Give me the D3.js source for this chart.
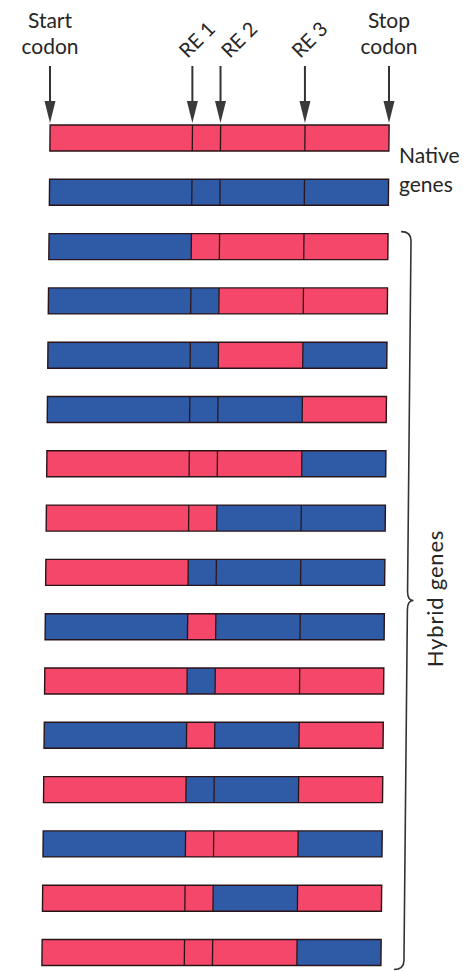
<!DOCTYPE html>
<html>
<head>
<meta charset="utf-8">
<script src="https://cdn.jsdelivr.net/npm/d3@7"></script>
<style>
  html, body { margin: 0; padding: 0; background: #ffffff; }
  svg { display: block; }
  text { font-family: Lato, "Open Sans", sans-serif; fill: #262626; }
</style>
</head>
<body>
<svg id="chart" width="471" height="971"></svg>
<script>
// ---- data ----
const siteNames = ["Start codon", "RE 1", "RE 2", "RE 3", "Stop codon"];
const sitePositions = [0, 42, 50.3, 75.2, 100];   // relative position along the gene
const nativeGenes = [
  ["R", "R", "R", "R"],
  ["B", "B", "B", "B"]
];
const hybridGenes = [
  ["B", "R", "R", "R"],
  ["B", "B", "R", "R"],
  ["B", "B", "R", "B"],
  ["B", "B", "B", "R"],
  ["R", "R", "R", "B"],
  ["R", "R", "B", "B"],
  ["R", "B", "B", "B"],
  ["B", "R", "B", "B"],
  ["R", "B", "R", "R"],
  ["B", "R", "B", "R"],
  ["R", "B", "B", "R"],
  ["B", "R", "R", "B"],
  ["R", "R", "B", "R"],
  ["R", "R", "R", "B"]
];
const groupLabels = ["Native genes", "Hybrid genes"];

// ---- layout ----
const svg = d3.select("#chart");
const allGenes = nativeGenes.concat(hybridGenes);
const x = d3.scaleLinear().domain([0, 100]).range([50, 389]);
const rowStep = 54.3, barH = 26, firstTop = 125;
const y = d3.scaleLinear().domain([0, 1]).range([firstTop, firstTop + rowStep]);
const fill = d3.scaleOrdinal().domain(["R", "B"]).range(["#f4476a", "#2e5aa6"]);

// ---- arrows & labels ----
const header = svg.append("g");
const arrowTop = 66, arrowTip = 123, headL = 22, headW = 11;
sitePositions.forEach((p, i) => {
  const ax = x(p);
  header.append("line")
    .attr("x1", ax).attr("x2", ax)
    .attr("y1", arrowTop).attr("y2", arrowTip - headL + 2)
    .attr("stroke", "#333").attr("stroke-width", 2);
  header.append("path")
    .attr("d", `M${ax - headW / 2},${arrowTip - headL} L${ax + headW / 2},${arrowTip - headL} L${ax},${arrowTip} Z`)
    .attr("fill", "#3a3a3a");
});
// Start / Stop labels (two lines)
[0, 4].forEach(i => {
  const words = siteNames[i].split(" ");
  const t = header.append("text")
    .attr("x", x(sitePositions[i]))
    .attr("text-anchor", "middle")
    .attr("font-size", 21);
  words.forEach((w, k) => {
    t.append("tspan").attr("x", x(sitePositions[i])).attr("y", 28 + k * 26).text(w);
  });
});
// RE labels, rotated
const reDx = [0, 4, 18, 4, 0];
[1, 2, 3].forEach(i => {
  const cx = x(sitePositions[i]) + reDx[i], cy = 39;
  header.append("text")
    .attr("transform", `translate(${cx},${cy}) rotate(-45)`)
    .attr("text-anchor", "middle")
    .attr("dominant-baseline", "central")
    .attr("font-size", 20)
    .text(siteNames[i]);
});

// ---- bars (slightly skewed like the scanned original) ----
const yc = firstTop + barH / 2;
const bars = svg.append("g")
  .attr("transform", `translate(0,${yc}) skewX(-0.56) translate(0,${-yc})`);

const segs = [];
allGenes.forEach((row, r) => {
  row.forEach((c, s) => {
    segs.push({ r, s, c });
  });
});
bars.selectAll("rect.seg").data(segs).join("rect")
  .attr("class", "seg")
  .attr("x", d => x(sitePositions[d.s]))
  .attr("width", d => x(sitePositions[d.s + 1]) - x(sitePositions[d.s]))
  .attr("y", d => y(d.r))
  .attr("height", barH)
  .attr("fill", d => fill(d.c))
  .attr("stroke", "none");
// outlines
bars.selectAll("rect.outline").data(allGenes).join("rect")
  .attr("class", "outline")
  .attr("x", x(0)).attr("width", x(100) - x(0))
  .attr("y", (d, r) => y(r)).attr("height", barH)
  .attr("fill", "none")
  .attr("stroke", "#2a1418").attr("stroke-width", 1.4);
// dividers at RE sites
const divs = [];
allGenes.forEach((row, r) => [1, 2, 3].forEach(i => divs.push({ r, i })));
bars.selectAll("line.div").data(divs).join("line")
  .attr("class", "div")
  .attr("x1", d => x(sitePositions[d.i])).attr("x2", d => x(sitePositions[d.i]))
  .attr("y1", d => y(d.r)).attr("y2", d => y(d.r) + barH)
  .attr("stroke", "#2a1418").attr("stroke-width", 1.3);

// ---- brace for hybrids ----
const bTop = y(nativeGenes.length) - 2, bBot = y(allGenes.length - 1) + barH + 4;
const bMid = (bTop + bBot) / 2, bx = 412, bx0 = 402, tip = 418, r = 9;
bars.append("path")
  .attr("d", `M${bx0},${bTop} Q${bx},${bTop} ${bx},${bTop + r} L${bx},${bMid - r} Q${bx},${bMid} ${tip},${bMid} Q${bx},${bMid} ${bx},${bMid + r} L${bx},${bBot - r} Q${bx},${bBot} ${bx0},${bBot}`)
  .attr("fill", "none").attr("stroke", "#333").attr("stroke-width", 1.6);

// ---- group labels ----
const nat = groupLabels[0].split(" ");
const nt = svg.append("text").attr("font-size", 21).attr("text-anchor", "start");
nat.forEach((w, k) => nt.append("tspan").attr("x", 399).attr("y", 163 + k * 29).text(w));

svg.append("text")
  .attr("transform", `translate(443,${bMid - 2}) rotate(-90)`)
  .attr("text-anchor", "middle")
  .attr("font-size", 22)
  .attr("letter-spacing", 0.8)
  .text(groupLabels[1]);
</script>
</body>
</html>
